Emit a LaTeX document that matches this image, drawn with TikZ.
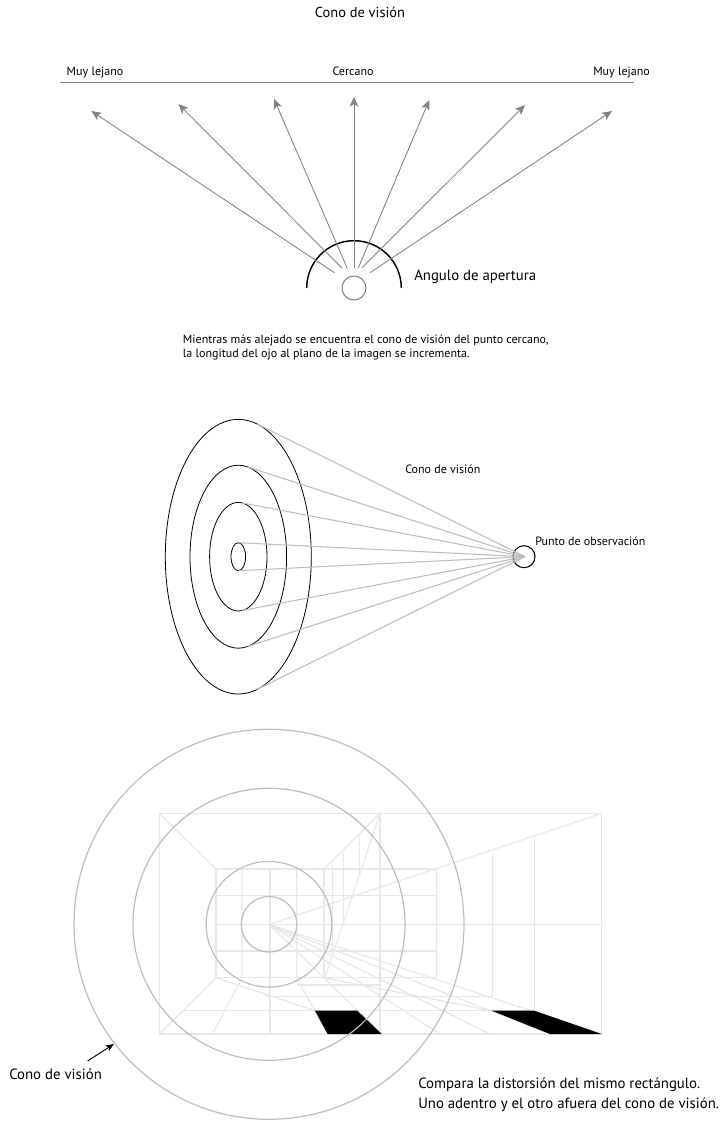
\documentclass[tikz,border=0pt]{standalone}
\usepackage{fontspec}
\setmainfont{PT Sans}
\usetikzlibrary{shapes.geometric,arrows.meta}
\definecolor{gridGrey}{HTML}{E6E7E8}
\definecolor{ringGrey}{HTML}{BCBEC0}
\definecolor{rayGrey}{HTML}{808285}
\begin{document}
\begin{tikzpicture}[x=0.75pt,y=-0.75pt,
    txtS/.style={inner sep=0pt,font=\fontsize{9}{10.5}\selectfont},
    txtM/.style={inner sep=0pt,font=\fontsize{10.8}{13}\selectfont},
    txtL/.style={inner sep=0pt,font=\fontsize{11.1}{15}\selectfont},
    rayArrow/.style={-{Stealth[length=7.5pt,width=6.5pt,inset=2pt]},rayGrey,line width=0.65pt},
    ringE/.style={ellipse,draw=black,line width=0.6pt,inner sep=0pt,outer sep=0pt},
    coneLine/.style={ringGrey,line width=0.8pt},
    gridLine/.style={gridGrey,line width=0.9pt},
    ringC/.style={circle,draw=ringGrey,line width=0.9pt,inner sep=0pt,outer sep=0pt},
]
\useasboundingbox (0,0) rectangle (721,1123);
% upper fan
\node[txtM] (titleTop) at (360,12) {Cono de visión};
\node[txtS,anchor=base] (farL) at (95,75.5) {Muy lejano};
\node[txtS,anchor=base] (nearC) at (353,75.5) {Cercano};
\node[txtS,anchor=base] (farR) at (621.5,75.5) {Muy lejano};
\coordinate (planeL) at (60,83);
\coordinate (planeR) at (633.5,83);
\draw[rayGrey,line width=0.75pt] (planeL) -- (planeR);
\node[circle,draw=rayGrey,line width=0.8pt,minimum size=24*0.75pt,inner sep=0pt] (eyeTop) at (354,288) {};
\draw[black,line width=1.1pt] (306.7,288) arc (-180:0:47.3);
\foreach \sx/\sy/\tx/\ty/\nm in {334.3/272.7/91.4/111/a,342/268/178.4/104/b,347/267.7/274/99/c,354/267.7/354/96.7/d,358.4/267.7/429.3/100/e,362/267.7/525/105/f,370/272.7/612/111/g}{
  \coordinate (s\nm) at (\sx,\sy);
  \coordinate (t\nm) at (\tx,\ty);
  \draw[rayArrow] (s\nm) -- (t\nm);
}
\node[txtL,anchor=west] (apert) at (414,277) {Angulo de apertura};
\node[txtS,anchor=north west,align=left] (noteA) at (182.7,335) {Mientras más alejado se encuentra el cono de visión del punto cercano,\\la longitud del ojo al plano de la imagen se incrementa.};
% middle cone
\node[ringE,minimum width=146*0.75pt,minimum height=274.6*0.75pt] (ringA) at (238.3,556.7) {};
\node[ringE,minimum width=96.6*0.75pt,minimum height=183*0.75pt] (ringB) at (238.3,556.7) {};
\node[ringE,minimum width=57.4*0.75pt,minimum height=108.6*0.75pt] (ringD) at (238.3,556.7) {};
\node[ringE,minimum width=14.6*0.75pt,minimum height=28*0.75pt] (ringF) at (238.3,556.7) {};
\node[circle,draw=black,line width=0.8pt,minimum size=22*0.75pt,inner sep=0pt,outer sep=0pt] (eyeMid) at (524,556.7) {};
\coordinate (apex) at (525,556.7);
\foreach \rr/\ang in {ringA/82,ringB/84.9,ringD/86.9,ringF/89}{
  \draw[coneLine] (\rr.\ang) -- (apex);
  \draw[coneLine] (\rr.-\ang) -- (apex);
}
\node[txtS,anchor=west] (coneMid) at (405,469) {Cono de visión};
\node[txtS,anchor=west] (obsPt) at (535,541.7) {Punto de observación};
% lower room
\begin{scope}[gridLine]
\draw (159.3,813.3) rectangle (601.7,1034);
\draw (216,869) -- (216,977.7) -- (436.5,977.7);
\draw (324,869) -- (324,977.7);
\draw (380,813.3) -- (380,1034);
\draw (436.5,868) -- (436.5,978);
\draw (492.7,851.7) -- (492.7,996.7);
\draw (534.3,836.7) -- (534.3,1010.7);
% back wall
\draw (216,869) -- (436.5,869);
\draw (216,895.7) -- (436.5,895.7);
\draw (216,924.3) -- (601.7,924.3);
\draw (269,924.3) -- (436.5,924.3);
\draw (216,951) -- (436.5,951);
\draw (297,985) -- (380,985);
\draw (266,996.7) -- (492.7,996.7);
\draw (183,1010.7) -- (534.3,1010.7);
\draw (242,869) -- (242,977.7) -- (212.7,1034);
\draw (270,869) -- (270,1034);
\draw (296.7,869) -- (296.7,977.7) -- (327.7,1034);
% corners
\draw (159.3,813.3) -- (216,869);
\draw (216,977.7) -- (159.3,1034);
\draw (324,869) -- (380,813.3) -- (325,977.7);
\draw (332.7,863) -- (332.7,953);
\draw (343.3,851.7) -- (343.3,923);
\draw (359.3,835) -- (359.3,875);
\draw (216,977.7) -- (315,1010.7);
\draw (324,977.7) -- (491.7,1010.7);
% rays
\draw (269,924.3) -- (601.7,813.3);
\foreach \bx in {381.7,440,490,550,601.7}{
  \draw (269,924.3) -- (\bx,1034);
}
\end{scope}
\fill[black] (315,1010.7) -- (357.3,1010.7) -- (381.7,1034) -- (327.7,1034) -- cycle;
\fill[black] (491.7,1010.7) -- (534.3,1010.7) -- (601.7,1034) -- (550,1034) -- cycle;
\node[ringC,minimum size=55.6*0.75pt] (circA) at (269,924.3) {};
\node[ringC,minimum size=125.6*0.75pt] (circB) at (269,924.3) {};
\node[ringC,minimum size=272*0.75pt] (circD) at (269,924.3) {};
\node[ringC,minimum size=390*0.75pt] (circF) at (269,924.3) {};
\node[txtL,anchor=west] (coneLow) at (9,1074) {Cono de visión};
\coordinate (tipLow) at (113.8,1044);
\draw[-{Stealth[length=6pt,width=5pt,inset=1.5pt]},black,line width=0.7pt] (87.6,1061) -- (tipLow);
\node[txtL,anchor=north west,align=left] (noteB) at (418,1078) {Compara la distorsión del mismo rectángulo.\\Uno adentro y el otro afuera del cono de visión.};
\end{tikzpicture}
\end{document}
